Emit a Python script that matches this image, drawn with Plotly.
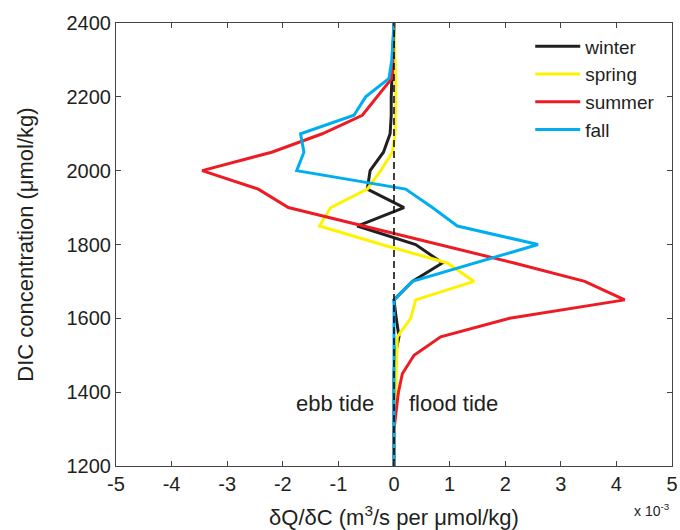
import plotly.graph_objects as go

dic = [1200, 1250, 1300, 1350, 1400, 1450, 1500, 1550, 1600, 1650, 1700, 1750, 1800,
       1850, 1900, 1950, 2000, 2050, 2100, 2150, 2200, 2250, 2300, 2350, 2400]

# values in units of 1e-3 m^3/s per umol/kg
winter = [0, 0, 0, 0, 0, 0, 0.02, 0.09, 0.04, 0, 0.33, 0.87, 0.39,
          -0.66, 0.18, -0.48, -0.43, -0.19, -0.07, -0.05, -0.05, -0.04, -0.03, -0.02, 0]
spring = [0, 0, 0.01, 0.02, 0.03, 0.04, 0.05, 0.06, 0.30, 0.39, 1.44, 0.96, -0.22,
          -1.34, -1.14, -0.48, -0.24, -0.03, 0.02, 0.03, 0.03, 0.03, 0.02, 0.01, 0]
summer = [0, 0, 0, 0.04, 0.08, 0.15, 0.36, 0.84, 2.08, 4.15, 3.43, 2.16, 0.82,
          -0.54, -1.9, -2.44, -3.45, -2.2, -1.29, -0.57, -0.3, -0.04, -0.02, -0.01, 0]
fall = [0, 0, 0, 0, 0, 0, 0, 0, 0, 0, 0.33, 1.46, 2.59,
        1.14, 0.69, 0.21, -1.75, -1.62, -1.68, -0.72, -0.51, -0.09, -0.04, -0.02, 0]

series = [("winter", winter, "#231f20"),
          ("spring", spring, "#fff200"),
          ("summer", summer, "#ed1c24"),
          ("fall", fall, "#00aeef")]

x_ticks = [-5, -4, -3, -2, -1, 0, 1, 2, 3, 4, 5]
y_ticks = [1200, 1400, 1600, 1800, 2000, 2200, 2400]

fig = go.Figure()
for name, vals, col in series:
    fig.add_trace(go.Scatter(x=vals, y=dic, mode="lines", name=name,
                             line=dict(color=col, width=3)))

fig.add_trace(go.Scatter(x=[0, 0], y=[1200, 2400], mode="lines", showlegend=False,
                         line=dict(color="black", width=1.5, dash="7px,4px")))

font = "Liberation Sans, Arial, sans-serif"
fig.update_layout(
    width=680, height=530,
    margin=dict(l=116, r=8, t=23, b=64, autoexpand=False),
    paper_bgcolor="white", plot_bgcolor="white",
    font=dict(family=font, size=20, color="#231f20"),
    showlegend=True,
    legend=dict(x=0.745, y=0.99, xanchor="left", yanchor="top",
                bgcolor="rgba(0,0,0,0)", font=dict(size=19),
                tracegroupgap=0, itemwidth=45),
    xaxis=dict(range=[-5, 5], tickvals=x_ticks, ticktext=[str(v) for v in x_ticks],
               ticks="inside", ticklen=5, tickcolor="#444", showgrid=False, zeroline=False,
               showline=True, linecolor="#444", linewidth=1, mirror="ticks",
               tickfont=dict(size=20), automargin=False,
               title=dict(text="δQ/δC (m<sup>3</sup>/s per μmol/kg)", font=dict(size=22),
                          standoff=18)),
    yaxis=dict(range=[1200, 2400], tickvals=y_ticks, ticks="inside", ticklen=5,
               tickcolor="#444", showgrid=False, zeroline=False,
               showline=True, linecolor="#444", linewidth=1, mirror="ticks",
               tickfont=dict(size=20), automargin=False,
               title=dict(text="DIC concentration (μmol/kg)", font=dict(size=22),
                          standoff=26)),
    annotations=[
        dict(x=-0.33, y=1368, xref="x", yref="y", text="ebb tide", showarrow=False,
             xanchor="right", font=dict(size=22)),
        dict(x=0.24, y=1368, xref="x", yref="y", text="flood tide", showarrow=False,
             xanchor="left", font=dict(size=22)),
        dict(x=1.0, y=-0.1, xref="paper", yref="paper", text="x 10<sup>-3</sup>",
             showarrow=False, xanchor="right", yanchor="middle", font=dict(size=14)),
    ],
)

fig.write_html("out.html")
